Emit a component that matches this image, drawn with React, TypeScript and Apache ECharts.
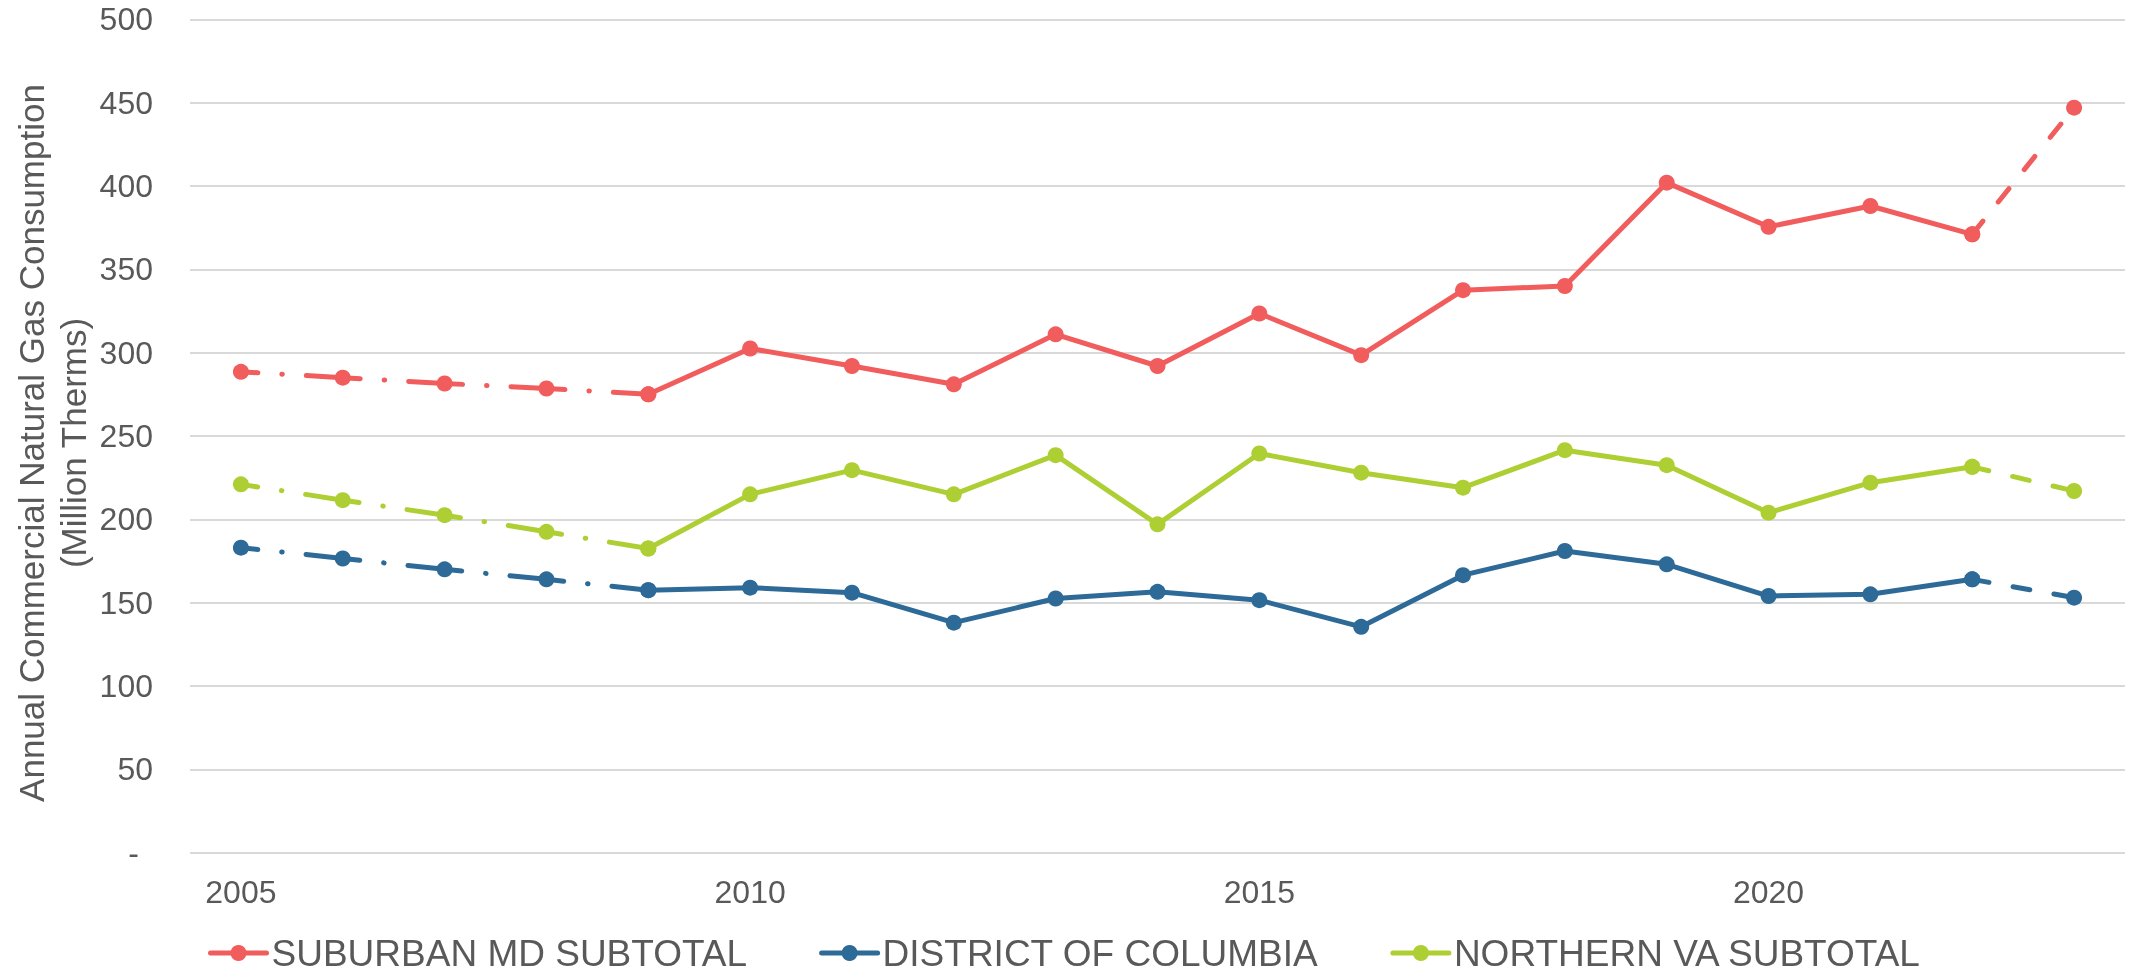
import React, { useEffect, useRef } from "react";
import * as echarts from "echarts";

const years = [
  2005, 2006, 2007, 2008, 2009, 2010, 2011, 2012, 2013, 2014, 2015, 2016,
  2017, 2018, 2019, 2020, 2021, 2022, 2023,
];
const labelYears = ["2005", "2010", "2015", "2020"];

const suburbanMD = [
  288.5, 285, 281.5, 278.5, 275, 302.5, 292, 281, 311, 292, 323.5, 298.5,
  337.5, 340, 402, 375.5, 388, 371, 447,
];
const districtOfColumbia = [
  183, 176.5, 170, 164, 157.5, 159, 156, 138, 152.5, 156.5, 151.5, 135.5,
  166.5, 181, 173, 154, 155, 164, 153,
];
const northernVA = [
  221, 211.5, 202.5, 192.5, 182.5, 215, 229.5, 215, 238.5, 197, 239.5, 228,
  219, 241.5, 232.5, 204, 222, 231.5, 217,
];

const seriesNames = [
  "SUBURBAN MD SUBTOTAL",
  "DISTRICT OF COLUMBIA",
  "NORTHERN VA SUBTOTAL",
];
const seriesColors = ["#F15C5C", "#2D6A97", "#AECF33"];

// index ranges of line styles
const dashDotEnd = 4; // 2005..2009
const dashedStart = 17; // 2022..2023

const FONT = "'Liberation Sans', Arial, sans-serif";
const GRAY = "#595959";
const LW = 5;

function buildSeries(name: string, values: number[], color: string) {
  const solid = values.map((v, i) => (i >= dashDotEnd && i <= dashedStart ? v : null));
  const dashDot = values.map((v, i) => (i <= dashDotEnd ? v : null));
  const dashed = values.map((v, i) => (i >= dashedStart ? v : null));
  const common = {
    type: "line",
    name,
    symbol: "circle",
    symbolSize: 16,
    showAllSymbol: true,
    itemStyle: { color },
    emphasis: { disabled: true },
  };
  return [
    {
      ...common,
      data: solid,
      lineStyle: { color, width: LW, cap: "round", join: "round" },
    },
    {
      ...common,
      data: dashDot,
      lineStyle: {
        color,
        width: LW,
        cap: "round",
        type: [54, 24, 0.5, 24],
        dashOffset: 37,
      },
    },
    {
      ...common,
      data: dashed,
      lineStyle: {
        color,
        width: LW,
        cap: "round",
        type: [17, 24.5],
        dashOffset: 0,
      },
    },
  ];
}

export default function App() {
  const ref = useRef<HTMLDivElement>(null);

  useEffect(() => {
    if (!ref.current) return;
    const chart = echarts.init(ref.current, null, { renderer: "svg" });
    const series: any[] = [];
    series.push(...buildSeries(seriesNames[0], suburbanMD, seriesColors[0]));
    series.push(...buildSeries(seriesNames[1], districtOfColumbia, seriesColors[1]));
    series.push(...buildSeries(seriesNames[2], northernVA, seriesColors[2]));

    chart.setOption({
      animation: false,
      textStyle: { fontFamily: FONT },
      grid: { left: 190, right: 11, top: 19.3, bottom: 123.3, containLabel: false },
      xAxis: {
        type: "category",
        data: years.map(String),
        boundaryGap: true,
        axisLine: { show: false },
        axisTick: { show: false },
        splitLine: { show: false },
        axisLabel: {
          interval: (_i: number, v: string) => labelYears.includes(v),
          fontSize: 32,
          color: GRAY,
          fontFamily: FONT,
          margin: 23,
        },
      },
      yAxis: {
        type: "value",
        min: 0,
        max: 500,
        interval: 50,
        axisLine: { show: false },
        axisTick: { show: false },
        splitLine: { lineStyle: { color: "#D9D9D9", width: 2 } },
        axisLabel: {
          fontSize: 32,
          color: GRAY,
          fontFamily: FONT,
          margin: 37,
          formatter: (v: number) => (v === 0 ? "{z|-}" : String(v)),
          rich: {
            z: { fontSize: 32, color: GRAY, fontFamily: FONT, padding: [0, 14, 0, 0] },
          },
        },
      },
      legend: {
        data: seriesNames,
        left: 208,
        top: 934,
        padding: 0,
        itemWidth: 56,
        itemHeight: 20,
        itemGap: 72,
        lineStyle: { width: LW },
        textStyle: { fontSize: 37, color: GRAY, fontFamily: FONT, lineHeight: 38 },
        selectedMode: false,
      },
      graphic: [
        {
          type: "text",
          x: 52,
          y: 443,
          rotation: Math.PI / 2,
          style: {
            text: "Annual Commercial Natural Gas Consumption\n(Million Therms)",
            fontSize: 35,
            lineHeight: 42,
            fill: GRAY,
            fontFamily: FONT,
            align: "center",
            verticalAlign: "middle",
          },
        },
      ],
      series,
    });
    return () => chart.dispose();
  }, []);

  return (
    <div
      ref={ref}
      style={{ position: "fixed", left: 0, top: 0, width: 2136, height: 976 }}
    />
  );
}
